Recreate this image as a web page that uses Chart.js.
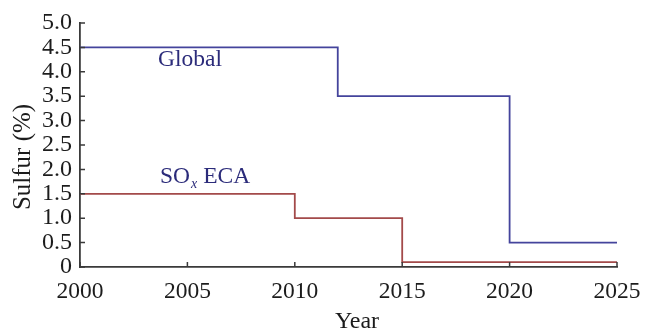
<!DOCTYPE html>
<html>
<head>
<meta charset="utf-8">
<script src="https://cdn.jsdelivr.net/npm/chart.js@4"></script>
<style>
  html, body { margin: 0; padding: 0; background: #ffffff; }
  #wrap { width: 646px; height: 329px; position: relative; }
</style>
</head>
<body>
<div id="wrap"><canvas id="c" width="646" height="329"></canvas></div>
<script>
// Sulfur limits for marine fuel (%), stepped by the year each limit takes effect
const globalYears  = [2000, 2012, 2020, 2025];
const globalLimits = [4.5, 3.5, 0.5, 0.5];
const ecaYears     = [2000, 2010, 2015, 2025];
const ecaLimits    = [1.5, 1.0, 0.1, 0.1];

const yearTicks   = [2000, 2005, 2010, 2015, 2020, 2025];
const sulfurTicks = [0, 0.5, 1.0, 1.5, 2.0, 2.5, 3.0, 3.5, 4.0, 4.5, 5.0];

const SERIF = '"Liberation Serif", "Times New Roman", serif';
const TEXT = '#1c1c1c';
const AXIS = '#3a3a3a';

const toPoints = (xs, ys) => xs.map((x, i) => ({ x: x, y: ys[i] }));

// Inward tick marks, axis titles and the in-plot series labels
const decorations = {
  id: 'decorations',
  afterDraw(chart) {
    const ctx = chart.ctx;
    const xs = chart.scales.x, ys = chart.scales.y;
    const x0 = xs.left, y0 = ys.bottom;
    ctx.save();
    ctx.strokeStyle = AXIS;
    ctx.lineWidth = 1.5;
    ctx.beginPath();
    yearTicks.forEach(v => {
      const px = xs.getPixelForValue(v);
      ctx.moveTo(px, y0);
      ctx.lineTo(px, y0 - 5);
    });
    sulfurTicks.forEach(v => {
      const py = ys.getPixelForValue(v);
      ctx.moveTo(x0, py);
      ctx.lineTo(x0 + 5, py);
    });
    ctx.stroke();

    ctx.fillStyle = TEXT;
    ctx.font = '24px ' + SERIF;
    ctx.textAlign = 'center';
    ctx.textBaseline = 'alphabetic';
    ctx.fillText('Year', 357, 328);

    ctx.save();
    ctx.translate(30, 157);
    ctx.rotate(-Math.PI / 2);
    ctx.font = '25px ' + SERIF;
    ctx.fillText('Sulfur (%)', 0, 0);
    ctx.restore();

    // series labels
    ctx.fillStyle = '#2b2b7a';
    ctx.textAlign = 'left';
    ctx.font = '23.5px ' + SERIF;
    ctx.fillText('Global', 158, 66);

    let x = 160;
    const base = 183;
    ctx.fillText('SO', x, base);
    x += ctx.measureText('SO').width;
    ctx.font = 'italic 14px ' + SERIF;
    ctx.fillText('x', x + 1, base + 5);
    x += ctx.measureText('x').width + 1;
    ctx.font = '23.5px ' + SERIF;
    ctx.fillText(' ECA', x, base);
    ctx.restore();
  }
};

new Chart(document.getElementById('c'), {
  type: 'line',
  data: {
    datasets: [
      {
        label: 'Global',
        data: toPoints(globalYears, globalLimits),
        stepped: true,
        borderColor: '#44449c',
        borderWidth: 1.8,
        pointRadius: 0,
        fill: false
      },
      {
        label: 'SOx ECA',
        data: toPoints(ecaYears, ecaLimits),
        stepped: true,
        borderColor: '#a34a4a',
        borderWidth: 1.8,
        pointRadius: 0,
        fill: false
      }
    ]
  },
  options: {
    responsive: false,
    animation: false,
    layout: { padding: { top: 23, right: 29, left: 0, bottom: 0 } },
    plugins: { legend: { display: false }, tooltip: { enabled: false } },
    scales: {
      x: {
        type: 'linear',
        min: 2000,
        max: 2025,
        afterFit(scale) {
          scale.height = 62;
          scale.paddingLeft = 0;
          scale.paddingRight = 0;
        },
        afterBuildTicks(scale) { scale.ticks = yearTicks.map(v => ({ value: v })); },
        grid: { display: false, drawTicks: false },
        border: { display: true, color: AXIS, width: 1.8 },
        ticks: {
          color: TEXT,
          font: { family: SERIF, size: 23.5 },
          padding: 11,
          maxRotation: 0,
          autoSkip: false,
          callback: v => String(v)
        }
      },
      y: {
        type: 'linear',
        min: 0,
        max: 5,
        afterFit(scale) {
          scale.width = 80;
          scale.paddingTop = 0;
          scale.paddingBottom = 0;
        },
        afterBuildTicks(scale) { scale.ticks = sulfurTicks.map(v => ({ value: v })); },
        grid: { display: false, drawTicks: false },
        border: { display: true, color: AXIS, width: 1.8 },
        ticks: {
          color: TEXT,
          font: { family: SERIF, size: 24 },
          padding: 8,
          autoSkip: false,
          callback: v => (v === 0 ? '0' : Number(v).toFixed(1))
        }
      }
    }
  },
  plugins: [decorations]
});
</script>
</body>
</html>
